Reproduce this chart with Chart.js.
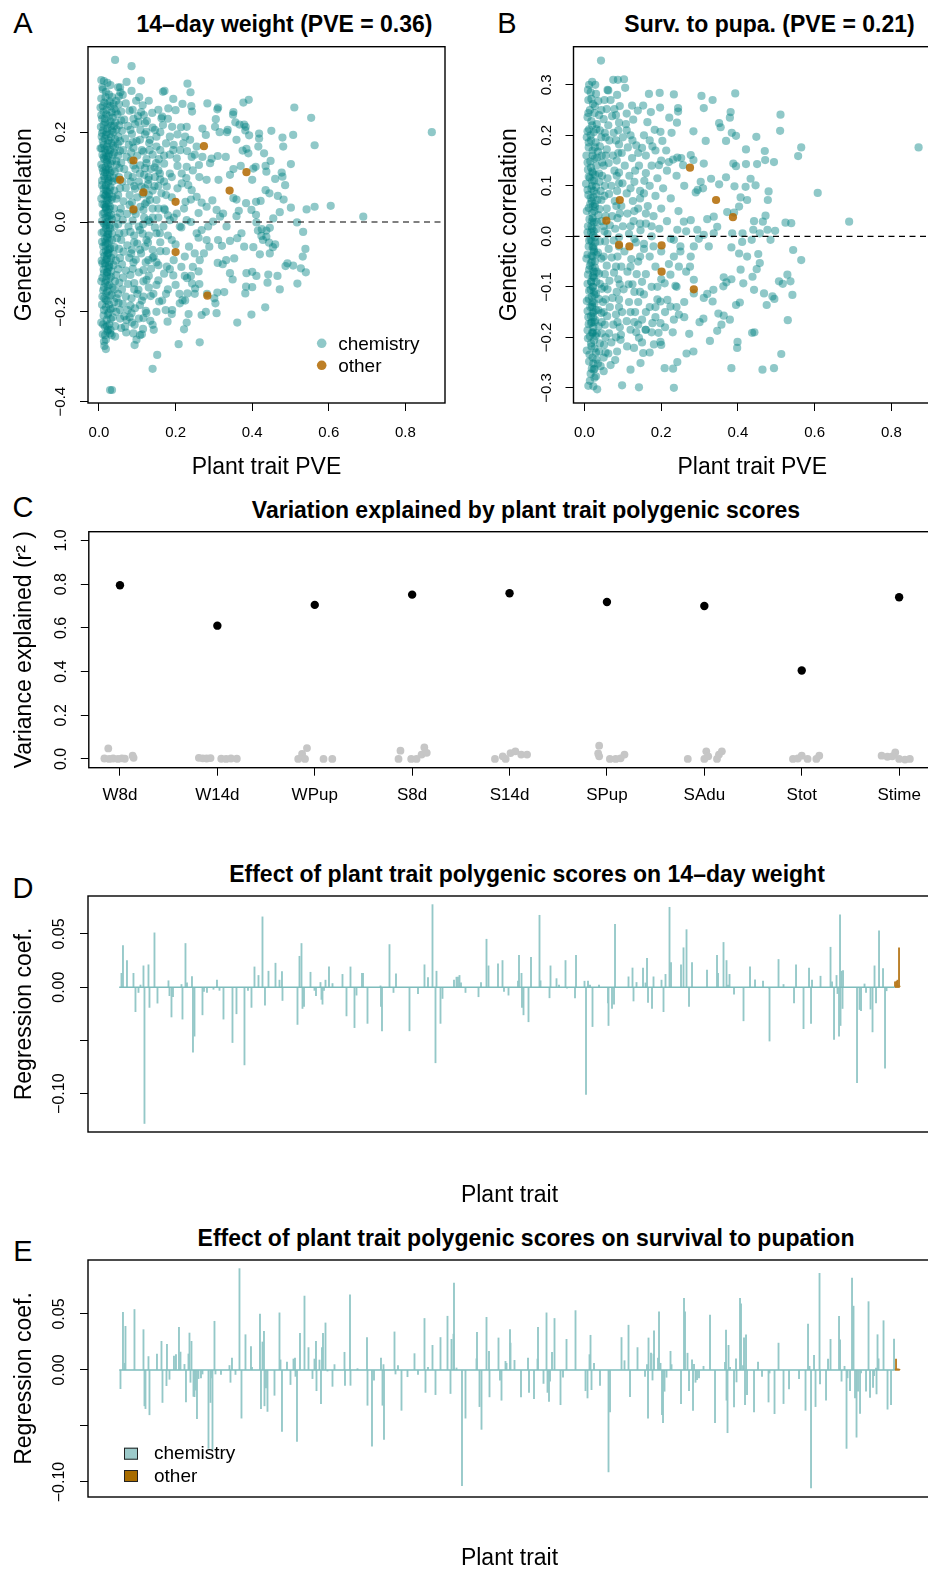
<!DOCTYPE html>
<html><head><meta charset="utf-8">
<script src="https://cdn.jsdelivr.net/npm/chart.js@4.4.1/dist/chart.umd.min.js"></script>
<style>
html,body{margin:0;padding:0;background:#fff;overflow:hidden;width:928px;height:1569px;position:relative;}
canvas{position:absolute;}
.t{position:absolute;transform:translate(-50%,-50%);white-space:nowrap;font-family:'Liberation Sans',Arial,Helvetica,sans-serif;color:#000;line-height:1;}
.ttl{font-weight:bold;font-size:23px;}
.lab{font-size:29px;}
</style></head><body>
<div class="t lab" style="left:23px;top:23px">A</div>
<div class="t lab" style="left:507px;top:23px">B</div>
<div class="t lab" style="left:23px;top:507px">C</div>
<div class="t lab" style="left:23px;top:888px">D</div>
<div class="t lab" style="left:23px;top:1251px">E</div>
<div class="t ttl" style="left:284.5px;top:23.5px">14–day weight (PVE = 0.36)</div>
<div class="t ttl" style="left:769.5px;top:23.5px">Surv. to pupa. (PVE = 0.21)</div>
<div class="t ttl" style="left:526px;top:510px">Variation explained by plant trait polygenic scores</div>
<div class="t ttl" style="left:527px;top:874px">Effect of plant trait polygenic scores on 14–day weight</div>
<div class="t ttl" style="left:526px;top:1238px">Effect of plant trait polygenic scores on survival to pupation</div>
<canvas id="cA" width="464" height="480" style="left:0;top:0"></canvas>
<canvas id="cB" width="451" height="480" style="left:485px;top:0"></canvas>
<canvas id="cC" width="936" height="340" style="left:0;top:490px"></canvas>
<canvas id="cD" width="936" height="350" style="left:0;top:860px"></canvas>
<canvas id="cE" width="936" height="344" style="left:0;top:1225px"></canvas>
<script>
// ---------------- DATA ----------------
// Panel A: [plant trait PVE, genetic correlation with 14-day weight]
const weightCorrChem = [
[0.042,0.361],[0.085,0.347],[0.072,0.312],[0.110,0.315],[0.050,0.300],[0.056,0.289],[0.105,0.278],[0.130,0.270],[0.167,0.290],[0.171,0.292],[0.194,0.274],[0.231,0.308],[0.239,0.289],[0.218,0.263],[0.181,0.253],[0.200,0.249],[0.241,0.258],[0.243,0.246],[0.283,0.264],[0.309,0.251],[0.311,0.255],[0.351,0.245],[0.350,0.239],[0.377,0.266],[0.391,0.272],[0.510,0.255],[0.554,0.232],[0.563,0.171],[0.869,0.200],[0.139,0.243],[0.117,0.238],[0.163,0.231],[0.167,0.216],[0.191,0.212],[0.214,0.211],[0.229,0.212],[0.305,0.229],[0.303,0.212],[0.270,0.208],[0.279,0.194],[0.315,0.200],[0.334,0.200],[0.336,0.205],[0.356,0.222],[0.367,0.217],[0.379,0.217],[0.383,0.212],[0.382,0.204],[0.392,0.193],[0.418,0.197],[0.450,0.203],[0.479,0.188],[0.507,0.194],[0.481,0.168],[0.418,0.186],[0.416,0.168],[0.359,0.183],[0.385,0.163],[0.375,0.159],[0.390,0.153],[0.431,0.153],[0.448,0.136],[0.435,0.125],[0.409,0.123],[0.403,0.119],[0.501,0.129],[0.477,0.110],[0.479,0.101],[0.486,0.082],[0.460,0.096],[0.437,0.112],[0.400,0.094],[0.370,0.125],[0.351,0.118],[0.342,0.105],[0.331,0.145],[0.310,0.147],[0.294,0.141],[0.290,0.131],[0.281,0.094],[0.312,0.094],[0.296,0.048],[0.351,0.053],[0.359,0.050],[0.365,0.025],[0.384,0.042],[0.398,0.027],[0.410,0.045],[0.422,0.047],[0.435,0.071],[0.445,0.064],[0.467,0.058],[0.482,0.050],[0.472,0.022],[0.501,0.032],[0.542,0.028],[0.563,0.034],[0.605,0.036],[0.690,0.012],[0.517,-0.001],[0.533,-0.022],[0.539,-0.060],[0.532,-0.077],[0.507,-0.097],[0.492,-0.092],[0.487,-0.098],[0.527,-0.103],[0.540,-0.112],[0.518,-0.137],[0.466,-0.120],[0.442,-0.117],[0.440,-0.135],[0.472,-0.150],[0.434,-0.190],[0.398,-0.206],[0.361,-0.224],[0.400,-0.145],[0.382,-0.159],[0.384,-0.144],[0.400,-0.111],[0.411,-0.120],[0.385,-0.114],[0.379,-0.055],[0.403,-0.056],[0.424,-0.031],[0.428,-0.040],[0.444,-0.046],[0.454,-0.056],[0.460,-0.050],[0.437,-0.033],[0.446,-0.070],[0.420,-0.072],[0.437,-0.019],[0.425,-0.016],[0.446,-0.013],[0.455,0.008],[0.411,-0.001],[0.415,-0.019],[0.410,0.016],[0.359,0.013],[0.372,-0.025],[0.361,-0.036],[0.342,-0.042],[0.321,-0.053],[0.311,-0.040],[0.332,-0.085],[0.353,-0.081],[0.310,-0.091],[0.323,-0.094],[0.342,-0.114],[0.349,-0.128],[0.309,-0.157],[0.327,-0.156],[0.282,-0.160],[0.301,-0.170],[0.304,-0.181],[0.307,-0.203],[0.279,-0.200],[0.268,-0.207],[0.234,-0.205],[0.229,-0.224],[0.222,-0.239],[0.263,-0.268],[0.208,-0.272],[0.152,-0.296],[0.140,-0.327],[0.143,-0.240],[0.140,-0.229],[0.179,-0.222],[0.174,-0.196],[0.191,-0.196],[0.157,-0.177],[0.211,-0.181],[0.218,-0.174],[0.251,-0.148],[0.231,-0.159],[0.262,-0.138],[0.243,-0.137],[0.224,-0.120],[0.194,-0.119],[0.177,-0.099],[0.155,-0.096],[0.143,-0.077],[0.263,-0.085],[0.274,-0.070],[0.250,-0.070],[0.224,-0.077],[0.281,-0.040],[0.288,-0.055],[0.255,-0.025],[0.268,-0.018],[0.285,-0.010],[0.298,0.001],[0.316,0.012],[0.333,-0.010],[0.324,0.019],[0.307,0.027],[0.281,0.034],[0.255,0.056],[0.268,0.043],[0.242,0.071],[0.233,0.082],[0.216,0.086],[0.226,0.045],[0.203,0.019],[0.185,0.004],[0.168,-0.010],[0.159,-0.025],[0.211,-0.010],[0.229,0.004],[0.172,0.027],[0.150,0.049],[0.163,0.064],[0.177,0.079],[0.185,0.108],[0.159,0.108],[0.149,0.131],[0.170,0.148],[0.194,0.160],[0.220,0.175],[0.238,0.183],[0.255,0.168],[0.242,0.145],[0.270,0.145],[0.261,0.127],[0.229,0.123],[0.203,0.142],[0.216,0.108],[0.150,0.168],[0.133,0.183],[0.124,0.201],[0.146,0.205],[0.120,0.220],[0.103,0.223],[0.107,0.183],[0.116,0.157],[0.124,0.131],[0.107,0.108],[0.129,0.094],[0.111,0.079],[0.133,0.049],[0.116,0.027],[0.129,0.004],[0.107,-0.018],[0.124,-0.040],[0.107,-0.062],[0.129,-0.085],[0.116,-0.107],[0.124,-0.129],[0.103,-0.151],[0.116,-0.166],[0.107,-0.185],[0.124,-0.203],[0.116,-0.214],[0.085,-0.203],[0.093,-0.229],[0.090,-0.248],[0.107,-0.252],[0.093,-0.274],[0.042,-0.255],[0.029,-0.248],[0.018,-0.283],[0.013,-0.266],[0.034,-0.374],[0.029,-0.374],[0.024,-0.240],[0.068,-0.233],[0.072,-0.218],
[0.006,0.316],[0.013,0.314],[0.022,0.310],[0.030,0.305],[0.010,0.295],[0.018,0.290],[0.026,0.284],[0.006,0.275],[0.034,0.278],[0.045,0.270],[0.014,0.266],[0.022,0.262],[0.004,0.255],[0.030,0.258],[0.040,0.252],[0.052,0.262],[0.012,0.246],[0.019,0.240],[0.027,0.236],[0.008,0.230],[0.036,0.232],[0.048,0.240],[0.016,0.222],[0.024,0.218],[0.005,0.212],[0.032,0.214],[0.043,0.222],[0.058,0.226],[0.011,0.204],[0.020,0.200],[0.028,0.196],[0.038,0.200],[0.007,0.190],[0.015,0.186],[0.025,0.182],[0.050,0.190],[0.033,0.176],[0.012,0.172],[0.021,0.168],[0.004,0.164],[0.042,0.166],[0.029,0.160],[0.017,0.154],[0.009,0.150],[0.024,0.146],[0.036,0.150],[0.055,0.158],[0.014,0.140],[0.020,0.134],[0.030,0.130],[0.006,0.128],[0.045,0.136],[0.017,0.122],[0.025,0.118],[0.011,0.112],[0.033,0.114],[0.021,0.106],[0.028,0.100],[0.015,0.096],[0.008,0.092],[0.039,0.098],[0.024,0.088],[0.018,0.082],[0.030,0.078],[0.012,0.074],[0.022,0.068],[0.027,0.062],[0.016,0.058],[0.035,0.056],[0.006,0.052],[0.020,0.048],[0.025,0.042],[0.014,0.038],[0.029,0.034],[0.019,0.028],[0.023,0.022],[0.010,0.018],[0.032,0.016],[0.017,0.010],[0.026,0.006],[0.021,0.000],[0.013,-0.004],[0.028,-0.008],[0.018,-0.014],[0.024,-0.020],[0.007,-0.024],[0.034,-0.026],[0.020,-0.032],[0.015,-0.038],[0.027,-0.042],[0.022,-0.048],[0.011,-0.054],[0.030,-0.058],[0.018,-0.064],[0.025,-0.070],[0.014,-0.076],[0.038,-0.072],[0.021,-0.082],[0.028,-0.088],[0.009,-0.092],[0.017,-0.098],[0.024,-0.104],[0.032,-0.110],[0.013,-0.114],[0.020,-0.120],[0.045,-0.118],[0.027,-0.126],[0.006,-0.132],[0.016,-0.136],[0.023,-0.142],[0.035,-0.146],[0.011,-0.152],[0.019,-0.158],[0.028,-0.164],[0.050,-0.160],[0.014,-0.170],[0.022,-0.176],[0.040,-0.178],[0.008,-0.184],[0.018,-0.190],[0.030,-0.194],[0.025,-0.202],[0.012,-0.208],[0.036,-0.212],[0.020,-0.218],[0.055,-0.215],[0.006,-0.224],[0.027,-0.228],[0.016,-0.234],[0.042,-0.232],[0.022,-0.244],[0.010,-0.250],[0.033,-0.252],[0.018,-0.262],[0.014,-0.276],
[0.019,0.145],[0.024,0.128],[0.016,0.110],[0.026,0.092],[0.019,0.070],[0.024,0.052],[0.017,0.032],[0.027,0.014],[0.020,-0.006],[0.025,-0.026],[0.017,-0.046],[0.024,-0.062],[0.019,-0.084],[0.026,-0.096],[0.021,-0.112],[0.023,0.160],[0.018,0.060],[0.022,-0.036],[0.020,0.040],[0.023,-0.070],
[0.009,0.300],[0.017,0.278],[0.028,0.268],[0.038,0.262],[0.010,0.258],[0.020,0.250],[0.033,0.244],[0.044,0.246],[0.006,0.238],[0.015,0.230],[0.030,0.224],[0.040,0.214],[0.012,0.216],[0.022,0.208],[0.034,0.204],[0.046,0.206],[0.008,0.198],[0.018,0.194],[0.031,0.188],[0.042,0.184],[0.010,0.180],[0.023,0.176],[0.037,0.170],[0.049,0.174],[0.007,0.164],[0.015,0.162],[0.027,0.152],[0.040,0.154],[0.012,0.144],[0.022,0.138],[0.034,0.136],[0.046,0.128],[0.009,0.120],[0.019,0.116],[0.029,0.110],[0.041,0.112],[0.013,0.102],[0.023,0.096],[0.035,0.090],[0.047,0.094],[0.008,0.082],[0.017,0.078],[0.028,0.072],[0.040,0.070],[0.012,0.062],[0.022,0.056],[0.033,0.050],[0.045,0.052],[0.009,0.040],[0.018,0.034],[0.027,0.028],[0.039,0.030],[0.014,0.020],[0.022,0.012],[0.034,0.006],[0.046,0.010],[0.008,0.002],[0.017,-0.008],[0.029,-0.014],[0.041,-0.010],[0.012,-0.022],[0.023,-0.028],[0.034,-0.040],[0.047,-0.036],[0.008,-0.044],[0.017,-0.052],[0.028,-0.060],[0.040,-0.056],[0.012,-0.068],[0.021,-0.074],[0.032,-0.080],[0.044,-0.086],[0.007,-0.086],[0.016,-0.092],[0.027,-0.100],[0.038,-0.096],[0.012,-0.106],[0.022,-0.112],[0.031,-0.122],[0.042,-0.132],[0.009,-0.124],[0.018,-0.130],[0.027,-0.140],[0.040,-0.150],[0.013,-0.146],[0.022,-0.154],[0.033,-0.162],[0.046,-0.170],[0.009,-0.166],[0.018,-0.174],[0.026,-0.184],[0.036,-0.192],[0.013,-0.196],[0.023,-0.206],[0.031,-0.216],[0.045,-0.200],[0.011,-0.228],[0.021,-0.232],[0.030,-0.240],[0.016,-0.252],
[0.055,0.300],[0.062,0.283],[0.070,0.264],[0.058,0.246],[0.066,0.228],[0.075,0.214],[0.060,0.203],[0.068,0.186],[0.078,0.172],[0.063,0.160],[0.072,0.145],[0.058,0.132],[0.066,0.118],[0.076,0.104],[0.061,0.090],[0.070,0.076],[0.080,0.060],[0.064,0.046],[0.057,0.030],[0.073,0.018],[0.062,0.004],[0.077,-0.010],[0.066,-0.024],[0.058,-0.040],[0.074,-0.052],[0.064,-0.066],[0.079,-0.080],[0.060,-0.094],[0.070,-0.108],[0.063,-0.124],[0.076,-0.138],[0.060,-0.150],[0.070,-0.166],[0.062,-0.182],[0.075,-0.196],[0.066,-0.210],[0.058,-0.236],[0.071,-0.246],
[0.052,0.280],[0.080,0.248],[0.090,0.230],[0.053,0.215],[0.082,0.205],[0.055,0.180],[0.088,0.178],[0.050,0.148],[0.084,0.155],[0.053,0.120],[0.090,0.126],[0.052,0.100],[0.083,0.090],[0.055,0.075],[0.092,0.080],[0.050,0.060],[0.080,0.038],[0.054,0.020],[0.090,0.025],[0.050,-0.005],[0.082,-0.022],[0.053,-0.025],[0.092,-0.045],[0.052,-0.060],[0.084,-0.070],[0.055,-0.080],[0.090,-0.090],[0.050,-0.105],[0.082,-0.118],[0.053,-0.135],[0.092,-0.150],[0.051,-0.180],[0.082,-0.186],[0.055,-0.196],[0.080,-0.212],
[0.085,0.292],[0.097,0.270],[0.088,0.250],[0.102,0.236],[0.114,0.260],[0.094,0.218],[0.108,0.205],[0.086,0.196],[0.120,0.195],[0.098,0.180],[0.131,0.176],[0.090,0.165],[0.112,0.160],[0.140,0.150],[0.100,0.148],[0.084,0.138],[0.124,0.140],[0.108,0.126],[0.095,0.118],[0.135,0.118],[0.118,0.105],[0.088,0.100],[0.146,0.100],[0.104,0.090],[0.128,0.084],[0.094,0.074],[0.114,0.062],[0.140,0.070],[0.100,0.055],[0.086,0.044],[0.124,0.044],[0.108,0.034],[0.140,0.030],[0.096,0.018],[0.118,0.010],[0.088,0.003],[0.132,0.000],[0.104,-0.010],[0.146,-0.012],[0.092,-0.030],[0.114,-0.026],[0.128,-0.046],[0.100,-0.048],[0.086,-0.062],[0.140,-0.062],[0.110,-0.070],[0.096,-0.084],[0.122,-0.090],[0.088,-0.104],[0.136,-0.104],[0.104,-0.112],[0.116,-0.132],[0.092,-0.136],[0.130,-0.146],[0.100,-0.160],[0.085,-0.170],[0.112,-0.175],[0.142,-0.160],[0.094,-0.192],[0.122,-0.198],[0.104,-0.215],[0.134,-0.220],[0.086,-0.224],[0.115,-0.238],[0.098,-0.262],[0.112,-0.250],
[0.110,0.245],[0.125,0.225],[0.140,0.210],[0.150,0.190],[0.132,0.160],[0.156,0.140],[0.120,0.120],[0.145,0.122],[0.130,0.100],[0.160,0.095],[0.120,0.075],[0.145,0.080],[0.175,0.060],[0.130,0.060],[0.155,0.030],[0.120,0.040],[0.180,0.015],[0.140,0.010],[0.115,-0.005],[0.150,-0.025],[0.190,-0.040],[0.130,-0.030],[0.120,-0.055],[0.160,-0.065],[0.140,-0.080],[0.185,-0.105],[0.130,-0.120],[0.150,-0.140],[0.135,-0.165],[0.175,-0.160],[0.150,-0.200],[0.210,-0.160],[0.240,-0.120],[0.260,-0.110],
[0.155,0.250],[0.165,0.235],[0.180,0.230],[0.160,0.200],[0.185,0.190],[0.205,0.195],[0.225,0.190],[0.175,0.175],[0.195,0.172],[0.212,0.160],[0.160,0.160],[0.230,0.158],[0.250,0.150],[0.185,0.150],[0.170,0.130],[0.205,0.125],[0.245,0.115],[0.155,0.115],[0.190,0.100],[0.228,0.098],[0.262,0.100],[0.170,0.090],[0.205,0.075],[0.155,0.080],[0.240,0.050],[0.190,0.055],[0.222,0.030],[0.170,0.030],[0.260,0.020],[0.195,0.010],[0.155,0.010],[0.240,0.000],[0.215,-0.012],[0.180,-0.030],[0.260,-0.035],[0.160,-0.045],[0.200,-0.050],[0.235,-0.055],[0.175,-0.065],[0.150,-0.090],[0.195,-0.085],[0.215,-0.100],[0.245,-0.100],[0.170,-0.115],[0.230,-0.125],[0.155,-0.130],[0.200,-0.140],[0.180,-0.150],[0.250,-0.160],[0.165,-0.175],[0.225,-0.175],[0.190,-0.205]
];
const weightCorrOther = [[0.055,0.094],[0.090,0.137],[0.116,0.066],[0.090,0.028],[0.200,0.045],[0.274,0.169],[0.341,0.070],[0.385,0.111],[0.200,-0.067],[0.283,-0.164]];

// Panel B: [plant trait PVE, genetic correlation with survival to pupation]
const survCorrChem = [
[0.043,0.348],[0.075,0.310],[0.087,0.310],[0.103,0.311],[0.106,0.294],[0.062,0.289],[0.168,0.282],[0.196,0.284],[0.233,0.281],[0.305,0.278],[0.334,0.270],[0.393,0.283],[0.311,0.254],[0.244,0.254],[0.244,0.247],[0.197,0.255],[0.173,0.246],[0.153,0.259],[0.124,0.259],[0.139,0.249],[0.110,0.243],[0.078,0.252],[0.127,0.231],[0.164,0.226],[0.221,0.235],[0.241,0.225],[0.227,0.205],[0.183,0.211],[0.198,0.207],[0.203,0.189],[0.177,0.178],[0.213,0.170],[0.252,0.155],[0.284,0.208],[0.316,0.189],[0.351,0.224],[0.355,0.216],[0.381,0.246],[0.379,0.235],[0.384,0.205],[0.395,0.199],[0.448,0.197],[0.369,0.189],[0.511,0.241],[0.510,0.209],[0.565,0.176],[0.557,0.159],[0.871,0.176],[0.421,0.172],[0.470,0.169],[0.494,0.147],[0.471,0.151],[0.450,0.143],[0.421,0.143],[0.388,0.144],[0.395,0.139],[0.433,0.114],[0.446,0.101],[0.420,0.098],[0.391,0.099],[0.369,0.117],[0.351,0.103],[0.330,0.114],[0.303,0.108],[0.309,0.095],[0.290,0.087],[0.295,0.092],[0.277,0.161],[0.284,0.151],[0.311,0.144],[0.257,0.141],[0.242,0.156],[0.231,0.152],[0.220,0.147],[0.194,0.141],[0.608,0.086],[0.690,0.029],[0.524,0.027],[0.539,0.026],[0.497,0.011],[0.477,0.013],[0.478,0.072],[0.480,0.089],[0.472,0.041],[0.465,0.029],[0.442,0.030],[0.440,0.013],[0.457,0.006],[0.403,0.059],[0.407,0.077],[0.424,0.072],[0.390,0.047],[0.372,0.048],[0.385,0.006],[0.412,0.006],[0.436,-0.007],[0.411,-0.011],[0.383,-0.022],[0.403,-0.034],[0.424,-0.040],[0.453,-0.035],[0.457,-0.053],[0.449,-0.065],[0.438,-0.080],[0.485,-0.007],[0.544,-0.027],[0.565,-0.047],[0.529,-0.076],[0.537,-0.089],[0.507,-0.089],[0.517,-0.094],[0.542,-0.116],[0.468,-0.113],[0.490,-0.119],[0.495,-0.124],[0.475,-0.136],[0.442,-0.106],[0.414,-0.093],[0.405,-0.131],[0.395,-0.136],[0.407,-0.066],[0.383,-0.085],[0.363,-0.081],[0.370,-0.091],[0.362,-0.099],[0.336,-0.106],[0.320,-0.114],[0.334,-0.129],[0.349,-0.153],[0.363,-0.157],[0.379,-0.165],[0.357,-0.175],[0.346,-0.187],[0.327,-0.207],[0.310,-0.163],[0.300,-0.170],[0.273,-0.193],[0.266,-0.232],[0.284,-0.228],[0.399,-0.209],[0.398,-0.221],[0.437,-0.191],[0.443,-0.190],[0.530,-0.166],[0.513,-0.233],[0.494,-0.261],[0.464,-0.264],[0.383,-0.261],[0.311,-0.122],[0.285,-0.113],[0.285,-0.086],[0.275,-0.060],[0.277,-0.040],[0.285,-0.020],[0.298,-0.005],[0.294,0.013],[0.311,0.003],[0.324,-0.020],[0.337,0.006],[0.346,0.019],[0.320,0.034],[0.337,0.039],[0.277,0.032],[0.259,0.029],[0.242,0.013],[0.233,-0.007],[0.250,-0.020],[0.233,-0.040],[0.246,-0.060],[0.224,-0.076],[0.209,-0.093],[0.237,-0.098],[0.216,-0.126],[0.198,-0.129],[0.224,-0.139],[0.246,-0.155],[0.233,-0.165],[0.198,-0.172],[0.177,-0.172],[0.193,-0.191],[0.181,-0.214],[0.198,-0.209],[0.209,-0.261],[0.231,-0.262],[0.242,-0.249],[0.233,-0.300],[0.142,-0.299],[0.098,-0.295],[0.120,-0.264],[0.146,-0.251],[0.153,-0.231],[0.142,-0.201],[0.159,-0.185],[0.129,-0.221],[0.111,-0.218],[0.094,-0.205],[0.085,-0.228],[0.050,-0.267],[0.042,-0.257],[0.024,-0.264],[0.030,-0.277],[0.023,-0.297],[0.033,-0.303],
[0.012,0.300],[0.020,0.306],[0.028,0.300],[0.016,0.285],[0.030,0.282],[0.010,0.270],[0.022,0.262],[0.036,0.268],[0.014,0.250],[0.026,0.244],[0.044,0.250],[0.008,0.236],[0.018,0.228],[0.032,0.222],[0.050,0.232],[0.012,0.212],[0.024,0.206],[0.040,0.210],[0.006,0.196],[0.017,0.190],[0.029,0.186],[0.055,0.196],[0.011,0.176],[0.021,0.170],[0.035,0.168],[0.005,0.160],[0.026,0.154],[0.045,0.160],[0.015,0.148],[0.031,0.140],[0.009,0.132],[0.020,0.128],[0.038,0.124],[0.014,0.116],[0.025,0.110],[0.004,0.104],[0.030,0.098],[0.018,0.094],[0.042,0.090],[0.010,0.082],[0.023,0.078],[0.034,0.072],[0.015,0.064],[0.027,0.058],[0.006,0.050],[0.020,0.046],[0.036,0.042],[0.013,0.034],[0.025,0.028],[0.018,0.020],[0.031,0.014],[0.008,0.008],[0.022,0.002],[0.016,-0.006],[0.028,-0.012],[0.011,-0.020],[0.024,-0.026],[0.035,-0.032],[0.018,-0.038],[0.005,-0.044],[0.027,-0.050],[0.014,-0.058],[0.021,-0.064],[0.032,-0.070],[0.009,-0.076],[0.025,-0.082],[0.017,-0.090],[0.040,-0.094],[0.022,-0.100],[0.012,-0.108],[0.030,-0.114],[0.019,-0.120],[0.006,-0.128],[0.026,-0.132],[0.015,-0.140],[0.036,-0.146],[0.021,-0.152],[0.010,-0.160],[0.028,-0.166],[0.017,-0.172],[0.045,-0.170],[0.023,-0.180],[0.008,-0.186],[0.032,-0.192],[0.014,-0.198],[0.025,-0.206],[0.040,-0.212],[0.018,-0.218],[0.006,-0.226],[0.030,-0.230],[0.021,-0.240],[0.012,-0.248],[0.035,-0.252],[0.026,-0.262],[0.016,-0.272],[0.010,-0.296],[0.050,-0.240],[0.055,-0.200],[0.048,-0.130],[0.052,0.010],[0.046,0.120],
[0.020,0.110],[0.024,0.090],[0.019,0.070],[0.026,0.050],[0.020,0.030],[0.024,0.010],[0.019,-0.010],[0.025,-0.030],[0.020,-0.050],[0.024,-0.070],[0.018,-0.090],[0.025,-0.110],[0.021,-0.130],[0.024,-0.150],[0.019,-0.170],[0.022,0.060],[0.023,-0.020],[0.021,-0.100],[0.022,0.125],[0.023,-0.190],
[0.009,0.290],[0.018,0.272],[0.027,0.258],[0.038,0.240],[0.010,0.244],[0.020,0.220],[0.031,0.212],[0.044,0.196],[0.008,0.208],[0.016,0.200],[0.027,0.176],[0.040,0.178],[0.011,0.186],[0.021,0.160],[0.033,0.156],[0.046,0.146],[0.008,0.146],[0.017,0.136],[0.028,0.122],[0.039,0.108],[0.011,0.118],[0.020,0.100],[0.031,0.084],[0.044,0.072],[0.008,0.092],[0.016,0.076],[0.027,0.064],[0.039,0.054],[0.011,0.056],[0.021,0.036],[0.032,0.028],[0.045,0.030],[0.009,0.020],[0.017,0.008],[0.027,-0.002],[0.040,-0.010],[0.012,-0.008],[0.021,-0.022],[0.031,-0.036],[0.044,-0.044],[0.008,-0.036],[0.017,-0.052],[0.027,-0.062],[0.038,-0.074],[0.012,-0.066],[0.021,-0.080],[0.031,-0.090],[0.045,-0.104],[0.008,-0.094],[0.016,-0.106],[0.026,-0.116],[0.037,-0.124],[0.011,-0.124],[0.020,-0.136],[0.030,-0.146],[0.044,-0.152],[0.008,-0.148],[0.017,-0.158],[0.026,-0.170],[0.037,-0.178],[0.011,-0.174],[0.020,-0.190],[0.029,-0.198],[0.044,-0.192],[0.009,-0.202],[0.017,-0.212],[0.026,-0.222],[0.038,-0.228],[0.013,-0.234],[0.023,-0.252],[0.031,-0.244],[0.019,-0.262],[0.014,-0.286],[0.026,-0.280],[0.021,-0.192],[0.023,-0.160],[0.020,-0.140],[0.023,-0.078],[0.021,-0.040],[0.020,0.015],
[0.060,0.290],[0.068,0.270],[0.058,0.252],[0.072,0.238],[0.062,0.220],[0.076,0.205],[0.065,0.190],[0.058,0.172],[0.074,0.160],[0.063,0.145],[0.078,0.130],[0.060,0.115],[0.070,0.100],[0.064,0.084],[0.079,0.070],[0.058,0.055],[0.072,0.040],[0.066,0.022],[0.060,0.005],[0.076,-0.008],[0.063,-0.025],[0.071,-0.042],[0.058,-0.058],[0.077,-0.072],[0.065,-0.088],[0.060,-0.105],[0.073,-0.122],[0.066,-0.140],[0.059,-0.158],[0.075,-0.175],[0.064,-0.192],[0.070,-0.210],[0.062,-0.232],[0.068,-0.255],
[0.052,0.270],[0.082,0.240],[0.090,0.225],[0.053,0.205],[0.082,0.190],[0.055,0.160],[0.088,0.165],[0.050,0.140],[0.084,0.120],[0.053,0.100],[0.090,0.105],[0.052,0.080],[0.083,0.060],[0.055,0.040],[0.092,0.045],[0.050,0.020],[0.080,0.015],[0.054,-0.010],[0.090,-0.020],[0.050,-0.040],[0.082,-0.060],[0.053,-0.075],[0.092,-0.095],[0.052,-0.100],[0.084,-0.110],[0.055,-0.125],[0.090,-0.140],[0.050,-0.150],[0.082,-0.155],[0.053,-0.175],[0.092,-0.180],[0.051,-0.215],[0.082,-0.200],[0.055,-0.230],[0.080,-0.245],
[0.085,0.280],[0.092,0.258],[0.108,0.222],[0.088,0.210],[0.100,0.196],[0.120,0.200],[0.090,0.182],[0.113,0.176],[0.135,0.180],[0.097,0.165],[0.084,0.150],[0.124,0.155],[0.105,0.140],[0.142,0.140],[0.090,0.126],[0.117,0.120],[0.130,0.108],[0.099,0.105],[0.085,0.090],[0.145,0.090],[0.110,0.085],[0.126,0.070],[0.096,0.060],[0.140,0.055],[0.112,0.045],[0.086,0.036],[0.128,0.030],[0.100,0.020],[0.146,0.012],[0.116,0.005],[0.090,-0.002],[0.134,-0.012],[0.104,-0.030],[0.086,-0.040],[0.122,-0.045],[0.145,-0.040],[0.096,-0.060],[0.112,-0.070],[0.136,-0.075],[0.088,-0.085],[0.125,-0.095],[0.102,-0.105],[0.145,-0.110],[0.090,-0.125],[0.116,-0.130],[0.132,-0.150],[0.098,-0.150],[0.086,-0.170],[0.110,-0.168],[0.140,-0.175],[0.120,-0.185],[0.095,-0.195],
[0.110,0.210],[0.125,0.190],[0.140,0.165],[0.150,0.175],[0.132,0.130],[0.156,0.110],[0.120,0.095],[0.145,0.075],[0.130,0.050],[0.160,0.045],[0.120,0.020],[0.145,0.025],[0.175,0.020],[0.130,-0.005],[0.155,-0.025],[0.120,-0.060],[0.180,-0.020],[0.140,-0.050],[0.115,-0.095],[0.150,-0.090],[0.190,-0.100],[0.130,-0.110],[0.120,-0.150],[0.160,-0.150],[0.140,-0.130],[0.185,-0.140],[0.130,-0.170],[0.150,-0.165],[0.135,-0.190],[0.175,-0.190],[0.150,-0.210],[0.210,-0.180],[0.240,-0.140],[0.260,-0.160],
[0.155,0.200],[0.170,0.190],[0.185,0.170],[0.160,0.160],[0.200,0.150],[0.175,0.140],[0.215,0.130],[0.160,0.125],[0.190,0.115],[0.240,0.120],[0.170,0.100],[0.205,0.095],[0.260,0.100],[0.155,0.085],[0.185,0.080],[0.225,0.075],[0.165,0.060],[0.200,0.055],[0.245,0.050],[0.180,0.040],[0.215,0.030],[0.160,0.025],[0.195,0.015],[0.265,0.010],[0.175,0.000],[0.225,-0.005],[0.155,-0.015],[0.200,-0.030],[0.250,-0.030],[0.170,-0.040],[0.185,-0.060],[0.220,-0.055],[0.160,-0.075],[0.265,-0.070],[0.200,-0.085],[0.175,-0.100],[0.240,-0.100],[0.155,-0.115],[0.190,-0.125],[0.260,-0.130],[0.170,-0.140],[0.210,-0.150],[0.185,-0.160],[0.160,-0.185],[0.230,-0.190],[0.200,-0.215],[0.170,-0.230]
];
const survCorrOther = [[0.057,0.031],[0.092,0.072],[0.090,-0.017],[0.117,-0.020],[0.201,-0.018],[0.201,-0.070],[0.275,0.136],[0.343,0.072],[0.387,0.038],[0.285,-0.105]];

// Panel C
const insectTraits = ['W8d','W14d','WPup','S8d','S14d','SPup','SAdu','Stot','Stime'];
const r2AllScores = [0.795,0.610,0.705,0.752,0.758,0.718,0.700,0.405,0.740];
// single-score r2: [insect trait number, jitter, r2]
const r2SingleScores = [
[1,-0.12,0.048],[1,-0.16,0.002],[1,-0.11,0.000],[1,-0.07,0.002],[1,-0.02,0.000],[1,0.02,0.003],[1,0.05,0.001],[1,0.13,0.015],[1,0.14,0.005],
[2,-0.19,0.005],[2,-0.15,0.003],[2,-0.11,0.002],[2,-0.07,0.004],[2,0.04,0.001],[2,0.09,0.000],[2,0.14,0.002],[2,0.20,0.001],
[3,-0.08,0.050],[3,-0.13,0.023],[3,-0.17,0.000],[3,-0.10,0.000],[3,0.09,0.000],[3,0.18,0.000],
[4,-0.12,0.038],[4,-0.14,0.000],[4,-0.01,0.000],[4,0.045,0.000],[4,0.097,0.020],[4,0.125,0.053],[4,0.15,0.028],
[5,-0.15,0.000],[5,-0.07,0.012],[5,0.01,0.027],[5,0.06,0.035],[5,0.12,0.020],[5,0.18,0.020],[5,-0.04,0.000],
[6,-0.08,0.061],[6,-0.09,0.025],[6,-0.08,0.012],[6,0.03,0.000],[6,0.09,0.000],[6,0.14,0.003],[6,0.18,0.020],
[7,-0.17,0.000],[7,0.02,0.035],[7,0.00,0.000],[7,0.13,0.000],[7,0.18,0.035],[7,0.15,0.020],[7,0.04,0.012],
[8,-0.09,0.000],[8,0.00,0.015],[8,0.06,0.000],[8,0.18,0.015],[8,0.15,0.000],[8,-0.04,0.002],
[9,-0.18,0.015],[9,-0.12,0.010],[9,-0.04,0.030],[9,0.00,0.000],[9,0.06,-0.003],[9,-0.07,0.012],[9,0.11,0.000]
];

// Panels D/E: plant traits ordered (chemistry first, then other); [trait number, regression coef.]
const nChemTraits = 1551;
const nOtherTraits = 10;
const weightCoefChem = [
[5,0.013],[8,0.039],[16,0.025],[29,0.013],[33,-0.023],[39,-0.005],[43,0.002],[49,0.020],[51,-0.128],[59,0.021],[61,-0.019],[71,0.051],[77,-0.015],[99,0.006],[101,-0.008],[105,-0.028],[108,-0.009],[125,0.0025],[127,-0.030],[133,0.041],[136,0.004],[146,0.010],[148,-0.061],[151,-0.046],[167,-0.026],[170,-0.004],[176,-0.005],[189,-0.002],[196,0.0066],[201,-0.003],[209,-0.030],[227,-0.052],[235,-0.025],[251,-0.073],[258,-0.003],[265,-0.019],[271,0.019],[279,0.011],[287,0.066],[292,-0.017],[299,0.015],[313,0.0225],[321,0.0066],[326,0.0147],[327,-0.0125],[357,-0.035],[361,0.029],[365,0.041],[367,-0.020],[370,-0.018],[383,0.014],[391,-0.003],[394,-0.008],[403,0.0044],[405,-0.0115],[407,-0.016],[410,-0.003],[413,0.0066],[420,0.019],[427,0.0034],[447,0.012],[455,-0.027],[463,0.019],[471,-0.038],[475,-0.0075],[486,0.013],[488,0.013],[497,-0.034],[523,0.0012],[524,-0.018],[526,-0.041],[541,0.040],[549,-0.005],[554,0.0125],[581,-0.041],[598,-0.006],[611,0.021],[618,0.009],[627,0.0775],[633,-0.071],[635,0.015],[643,-0.034],[647,-0.0106],[670,0.0066],[675,0.0094],[678,0.0094],[681,0.011],[684,0.004],[693,-0.005],[719,-0.009],[724,0.0044],[735,0.045],[739,0.020],[758,0.022],[767,0.025],[770,-0.004],[779,-0.0075],
[798,0.0056],[800,0.030],[805,0.013],[806,-0.019],[809,-0.026],[819,-0.0325],[824,0.028],[841,0.0675],[843,0.006],[861,-0.010],[863,0.020],[875,0.008],[880,0.002],[893,0.025],[896,-0.001],[912,-0.010],[914,0.030],[931,0.0056],[934,-0.1006],[938,0.0056],[942,0.002],[947,-0.037],[960,0.002],[978,-0.0147],[979,-0.036],[986,-0.020],[990,-0.016],[992,0.059],[1019,0.0097],[1027,0.018],[1029,-0.013],[1035,0.0044],[1048,0.018],[1053,0.004],[1056,0.027],[1058,-0.0144],[1066,-0.020],[1069,0.0097],[1085,0.0066],[1089,-0.023],[1093,0.012],[1101,0.075],[1104,0.023],[1124,0.021],[1129,0.037],[1135,0.054],[1140,-0.018],[1146,0.023],[1176,0.016],[1196,0.030],[1198,0.013],[1209,0.042],[1215,0.025],[1218,0.002],[1221,0.012],[1230,-0.0066],[1249,-0.0316],[1262,0.019],[1272,0.0069],[1288,0.0056],[1300,-0.001],[1301,-0.0506],[1319,0.026],[1329,0.0025],[1350,-0.0147],[1354,0.021],[1369,-0.039],[1380,0.018],[1384,-0.034],[1386,0.0066],[1403,0.0103],[1423,0.0375],[1426,0.005],[1430,-0.049],[1435,0.011],[1437,-0.006],[1440,-0.046],[1442,0.068],[1443,-0.036],[1445,0.015],[1447,-0.020],[1448,0.0156],[1476,-0.0897],[1481,-0.021],[1484,-0.022],[1491,0.003],[1494,-0.005],[1503,-0.0206],[1507,-0.042],[1511,0.020],[1514,-0.0147],[1520,0.053],[1528,0.0175],[1532,-0.076],[1535,-0.0034]
];
const weightCoefOther = [[1552,0.005],[1553,0.001],[1554,0.002],[1555,0.0056],[1556,0.001],[1557,0.0066],[1558,0.001],[1559,0.002],[1560,0.037],[1561,0.001]];
const survCoefChem = [
[3,-0.0167],[8,0.0515],[11,0.006],[13,0.039],[31,0.054],[49,0.036],[51,-0.032],[53,-0.0345],[59,0.012],[61,-0.040],[76,0.0143],[85,0.0256],[87,-0.029],[95,-0.014],[96,0.023],[101,-0.0083],[110,0.0125],[114,0.0137],[120,0.038],[123,0.016],[131,0.005],[134,-0.0286],[139,0.0143],[141,0.033],[143,-0.011],[145,0.0256],[149,-0.0235],[151,-0.0238],[153,-0.018],[156,-0.0435],[159,-0.0077],[164,-0.0071],[167,-0.0036],[179,-0.070],[183,-0.029],[186,-0.007],[187,-0.071],[191,0.0435],[193,-0.0036],[204,-0.004],[221,0.004],[223,-0.011],[226,0.0107],[233,-0.004],[241,0.0905],[245,-0.043],[253,0.0315],[264,0.021],[266,0.0024],[282,0.050],[284,-0.0345],[287,0.025],[290,0.0345],[291,-0.032],[294,-0.016],[297,-0.037],[311,-0.0226],[321,0.051],[323,0.009],[326,-0.0548],[336,0.007],[343,-0.013],[349,0.0098],[352,0.0107],[353,-0.0057],[356,-0.0637],[362,0.0327],[371,0.066],[379,0.020],[387,-0.0077],[391,0.0098],[394,0.0256],[395,-0.0185],[401,0.0089],[404,-0.030],[406,0.020],[408,0.0327],[413,0.042],[417,-0.001],[427,-0.0146],[431,0.0048],[451,0.0158],[452,-0.0137],[462,0.067],[463,-0.0137],[477,0.0012],[496,0.029],[497,-0.0315],[506,-0.068],[510,-0.009],[524,0.0107],[527,-0.0315],[529,0.0048],[530,-0.062],[551,0.034],[553,-0.0036],[558,0.0039],[565,-0.036],[577,-0.006],[591,0.0146],[598,-0.004],[611,0.046],[613,-0.020],[618,0.0024],[627,0.022],[633,-0.022],[643,0.029],[657,0.048],[663,-0.021],[665,0.0274],[669,0.032],[670,0.0777],[675,0.0018],[686,-0.1033],[693,-0.043],[715,0.010],[716,0.0336],[721,-0.0327],[725,-0.053],[735,0.047],[740,0.0167],[741,-0.024],[759,0.0286],[762,-0.009],[765,-0.027],[773,0.0077],[775,0.006],[782,0.036],
[783,0.024],[791,0.0086],[804,-0.024],[818,0.0107],[820,-0.020],[830,-0.0256],[837,0.0098],[838,0.038],[849,-0.012],[855,0.051],[857,-0.020],[860,-0.028],[862,-0.010],[866,0.0158],[871,0.046],[883,-0.031],[888,-0.0065],[895,0.0274],[913,0.053],[933,-0.0185],[937,-0.025],[941,0.0137],[943,0.031],[945,-0.0176],[950,0.006],[962,-0.0137],[979,-0.091],[982,-0.0375],[1005,0.029],[1011,0.0083],[1019,0.040],[1022,-0.0238],[1037,0.020],[1052,-0.0057],[1056,0.0048],[1058,-0.043],[1059,0.0286],[1064,0.015],[1067,-0.009],[1069,0.0143],[1070,0.035],[1078,0.0107],[1080,0.052],[1083,0.006],[1086,-0.040],[1088,-0.047],[1091,-0.019],[1095,-0.0065],[1103,0.0167],[1105,0.0048],[1124,-0.030],[1130,0.064],[1132,0.052],[1137,0.015],[1140,-0.0185],[1146,0.009],[1148,-0.036],[1150,0.005],[1153,-0.011],[1156,-0.0086],[1160,-0.007],[1169,0.0033],[1182,0.049],[1192,-0.047],[1212,0.0068],[1214,0.0357],[1215,-0.027],[1217,-0.056],[1219,0.022],[1222,0.0024],[1230,-0.033],[1234,0.010],[1235,-0.0107],[1242,0.064],[1244,0.059],[1248,0.004],[1250,0.0286],[1252,-0.031],[1254,0.0315],[1256,-0.022],[1270,-0.0375],[1278,0.007],[1286,-0.0057],[1299,-0.0286],[1301,-0.0027],[1311,-0.039],[1319,0.024],[1329,-0.030],[1340,-0.017],[1360,-0.0077],[1373,-0.036],[1378,0.041],[1381,0.0033],[1384,-0.1054],[1390,0.013],[1393,-0.0327],[1401,0.0863],[1402,-0.0125],[1414,-0.027],[1418,0.0098],[1423,0.0274],[1440,0.048],[1442,0.027],[1445,-0.010],[1451,0.0033],[1455,-0.070],[1457,-0.007],[1462,-0.0185],[1466,0.082],[1469,0.057],[1472,-0.025],[1475,-0.060],[1478,-0.019],[1482,-0.0387],[1484,-0.0027],[1494,-0.019],[1499,0.061],[1502,-0.0244],[1508,-0.0155],[1510,-0.005],[1514,0.0018],[1515,-0.0214],[1517,0.0315],[1519,0.010],[1529,0.044],[1537,-0.035],[1544,-0.031],[1550,0.0277]
];
const survCoefOther = [[1552,0.001],[1553,0.0005],[1554,0.0098],[1555,0.0005],[1556,0.001],[1557,0.0005],[1558,0.0005],[1559,0.001],[1560,0.0005],[1561,0.0005]];

// tick values / labels
const pveTicks = [0, 0.2, 0.4, 0.6, 0.8];
const corrTicksA = [-0.4, -0.2, 0, 0.2];
const corrTicksB = [-0.3, -0.2, -0.1, 0, 0.1, 0.2, 0.3];
const r2Ticks = [0, 0.2, 0.4, 0.6, 0.8, 1.0];
const coefTicks = [-0.10, -0.05, 0, 0.05];
const coefTickLabels = ['\u22120.10', '', '0.00', '0.05'];

// ---------------- STYLE / HELPERS ----------------
const FONT = "'Liberation Sans', Arial, Helvetica, sans-serif";
Chart.defaults.font.family = FONT;
Chart.defaults.color = '#000';
const TEAL_PT = 'rgba(0,130,130,0.44)';
const ORANGE_PT = 'rgba(178,104,0,0.85)';
const TEAL_BAR = '#94C8C8';
const TEAL_BASE = '#7DBCBC';
const ORANGE_BAR = '#B97C22';
const fmt = (v, d) => (v < -1e-9 ? '\u2212' : '') + Math.abs(v).toFixed(d);
const xy = arr => arr.map(p => ({x: p[0], y: p[1]}));

const framePlugin = {
  id: 'frame',
  afterDatasetsDraw(chart) {
    const {ctx, chartArea: a} = chart;
    ctx.save(); ctx.strokeStyle = '#000'; ctx.lineWidth = 1.4;
    ctx.strokeRect(a.left, a.top, a.right - a.left, a.bottom - a.top);
    ctx.restore();
  }
};
const pointLegend = {
  id: 'ptLegend',
  afterDraw(chart, args, o) {
    if (!o || !o.items) return;
    const {ctx, chartArea: a} = chart;
    ctx.save();
    ctx.font = '19px ' + FONT; ctx.textBaseline = 'middle'; ctx.textAlign = 'left';
    o.items.forEach((it, i) => {
      const cx = a.right + o.dx, cy = a.bottom + o.dy + i * o.gap;
      ctx.fillStyle = it.color; ctx.beginPath(); ctx.arc(cx, cy, 4.8, 0, Math.PI * 2); ctx.fill();
      ctx.fillStyle = '#000'; ctx.fillText(it.label, cx + 16.5, cy + 1);
    });
    ctx.restore();
  }
};
const boxLegend = {
  id: 'boxLegend',
  afterDraw(chart, args, o) {
    if (!o || !o.items) return;
    const {ctx, chartArea: a} = chart;
    ctx.save();
    ctx.font = '19px ' + FONT; ctx.textBaseline = 'middle'; ctx.textAlign = 'left';
    o.items.forEach((it, i) => {
      const x = a.left + o.dx, y = a.bottom + o.dy + i * o.gap;
      ctx.fillStyle = it.color; ctx.fillRect(x, y, 14, 12);
      ctx.strokeStyle = '#222'; ctx.lineWidth = 1; ctx.strokeRect(x + 0.5, y + 0.5, 13, 11);
      ctx.fillStyle = '#000'; ctx.fillText(it.label, x + 30, y + 6.5);
    });
    ctx.restore();
  }
};
Chart.register(framePlugin, pointLegend, boxLegend);

const tickGrid = {display: true, drawOnChartArea: false, drawTicks: true, tickLength: 8, tickColor: '#000', tickWidth: 1};
function yAxis(min, max, ticks, labelFn, fontSize, pad, width, title) {
  return {
    type: 'linear', min, max,
    afterBuildTicks: s => { s.ticks = ticks.map(v => ({value: v})); },
    afterFit: s => { s.width = width; },
    grid: tickGrid, border: {display: false},
    ticks: {autoSkip: false, minRotation: 90, maxRotation: 90, crossAlign: 'center', padding: pad,
            color: '#000', font: {size: fontSize}, callback: (v, i) => labelFn(v, i)},
    title: {display: true, text: title, color: '#000', font: {size: 23}, padding: {top: 10.5, bottom: 0}}
  };
}
const baseOpts = (pad) => ({
  responsive: false, animation: false, devicePixelRatio: 1, events: [],
  layout: {padding: pad},
  plugins: {legend: {display: false}, tooltip: {enabled: false}, title: {display: false}}
});

// ---------------- PANELS A & B ----------------
const PVE_MIN = -0.0287, PVE_MAX = 0.9034;
function scatterPanel(id, chem, other, yMin, yMax, yTicks, yWidth, padRight, legend) {
  const opts = baseOpts({top: 46.7, right: padRight, bottom: 0, left: 0});
  opts.scales = {
    x: {
      type: 'linear', min: PVE_MIN, max: PVE_MAX,
      afterBuildTicks: s => { s.ticks = pveTicks.map(v => ({value: v})); },
      afterFit: s => { s.height = 77; },
      grid: tickGrid, border: {display: false},
      ticks: {autoSkip: false, maxRotation: 0, padding: 13, color: '#000', font: {size: 15}, callback: v => fmt(v, 1)},
      title: {display: true, text: 'Plant trait PVE', color: '#000', font: {size: 23, lineHeight: 1.0}, padding: {top: 0, bottom: 0.5}}
    },
    y: yAxis(yMin, yMax, yTicks, v => fmt(v, 1), 15, 4.2, yWidth, 'Genetic correlation')
  };
  if (legend) opts.plugins.ptLegend = legend;
  return new Chart(document.getElementById(id), {
    type: 'scatter',
    data: {datasets: [
      {type: 'line', data: [{x: PVE_MIN, y: 0}, {x: PVE_MAX, y: 0}], borderColor: '#000', borderWidth: 1.2,
       borderDash: [6, 4.5], pointRadius: 0, showLine: true, order: 0},
      {data: xy(other), backgroundColor: ORANGE_PT, borderWidth: 0, pointRadius: 4.1, order: 1},
      {data: xy(chem), backgroundColor: TEAL_PT, borderWidth: 0, pointRadius: 4.1, order: 2}
    ]},
    options: opts
  });
}
scatterPanel('cA', weightCorrChem, weightCorrOther, -0.403, 0.3904, corrTicksA, 88, 19,
  {dx: -123.3, dy: -59.7, gap: 22, items: [{label: 'chemistry', color: TEAL_PT}, {label: 'other', color: ORANGE_PT}]});
scatterPanel('cB', survCorrChem, survCorrOther, -0.330, 0.3755, corrTicksB, 88.5, 5, null);

// ---------------- PANEL C ----------------
(function () {
  const opts = baseOpts({top: 41.7, right: 5.7, bottom: 0, left: 0});
  opts.scales = {
    x: {
      type: 'linear', min: 0.68, max: insectTraits.length + 0.32,
      afterBuildTicks: s => { s.ticks = insectTraits.map((_, i) => ({value: i + 1})); },
      afterFit: s => { s.height = 62.3; },
      grid: tickGrid, border: {display: false},
      ticks: {autoSkip: false, maxRotation: 0, padding: 9, color: '#000', font: {size: 17},
              callback: v => insectTraits[Math.round(v) - 1]}
    },
    y: yAxis(-0.04, 1.04, r2Ticks, v => fmt(v, 1), 16, 7.7, 88.8, 'Variance explained (r\u00B2 )')
  };
  new Chart(document.getElementById('cC'), {
    type: 'scatter',
    data: {datasets: [
      {data: r2AllScores.map((v, i) => ({x: i + 1, y: v})), backgroundColor: '#000', borderWidth: 0, pointRadius: 4.2, order: 0},
      {data: r2SingleScores.map(p => ({x: p[0] + p[1], y: p[2]})), backgroundColor: '#C6C6C6', borderWidth: 0, pointRadius: 3.9, order: 1}
    ]},
    options: opts
  });
})();

// ---------------- PANELS D & E ----------------
function coefPanel(id, chem, other, yMin, yMax, padTop, xHeight, titlePadBottom, titleLineHeight, legend) {
  const nAll = nChemTraits + nOtherTraits;
  const xMin = 0.5 - 0.04 * nAll, xMax = nAll + 0.5 + 0.04 * nAll;
  const opts = baseOpts({top: padTop, right: 5, bottom: 0, left: 0});
  opts.scales = {
    x: {
      type: 'linear', min: xMin, max: xMax, offset: false,
      afterFit: s => { s.height = xHeight; },
      grid: {display: false}, border: {display: false}, ticks: {display: false},
      title: {display: true, text: 'Plant trait', color: '#000', font: {size: 23, lineHeight: titleLineHeight}, padding: {top: 0, bottom: titlePadBottom}}
    },
    y: yAxis(yMin, yMax, coefTicks, (v, i) => coefTickLabels[i], 16, 0, 88, 'Regression coef.')
  };
  if (legend) opts.plugins.boxLegend = legend;
  return new Chart(document.getElementById(id), {
    type: 'bar',
    data: {datasets: [
      {type: 'line', data: [{x: 0.5, y: 0}, {x: nChemTraits + 0.5, y: 0}], borderColor: TEAL_BASE, borderWidth: 1.5, pointRadius: 0, order: 0},
      {type: 'line', data: [{x: nChemTraits + 0.5, y: 0}, {x: nAll + 0.5, y: 0}], borderColor: ORANGE_BAR, borderWidth: 1.5, pointRadius: 0, order: 0},
      {data: xy(chem), backgroundColor: TEAL_BAR, borderWidth: 0, barThickness: 1.2, grouped: false, order: 1},
      {data: xy(other), backgroundColor: ORANGE_BAR, borderWidth: 0, barThickness: 1.2, grouped: false, order: 1}
    ]},
    options: opts
  });
}
coefPanel('cD', weightCoefChem, weightCoefOther, -0.136, 0.0856, 36, 78, 2.5, 1.0, null);
coefPanel('cE', survCoefChem, survCoefOther, -0.1134, 0.0982, 35, 72, 0.8, 0.8,
  {dx: 36, dy: -49.3, gap: 22.3, items: [{label: 'chemistry', color: '#9CCACA'}, {label: 'other', color: '#A86C00'}]});
</script>
</body></html>
